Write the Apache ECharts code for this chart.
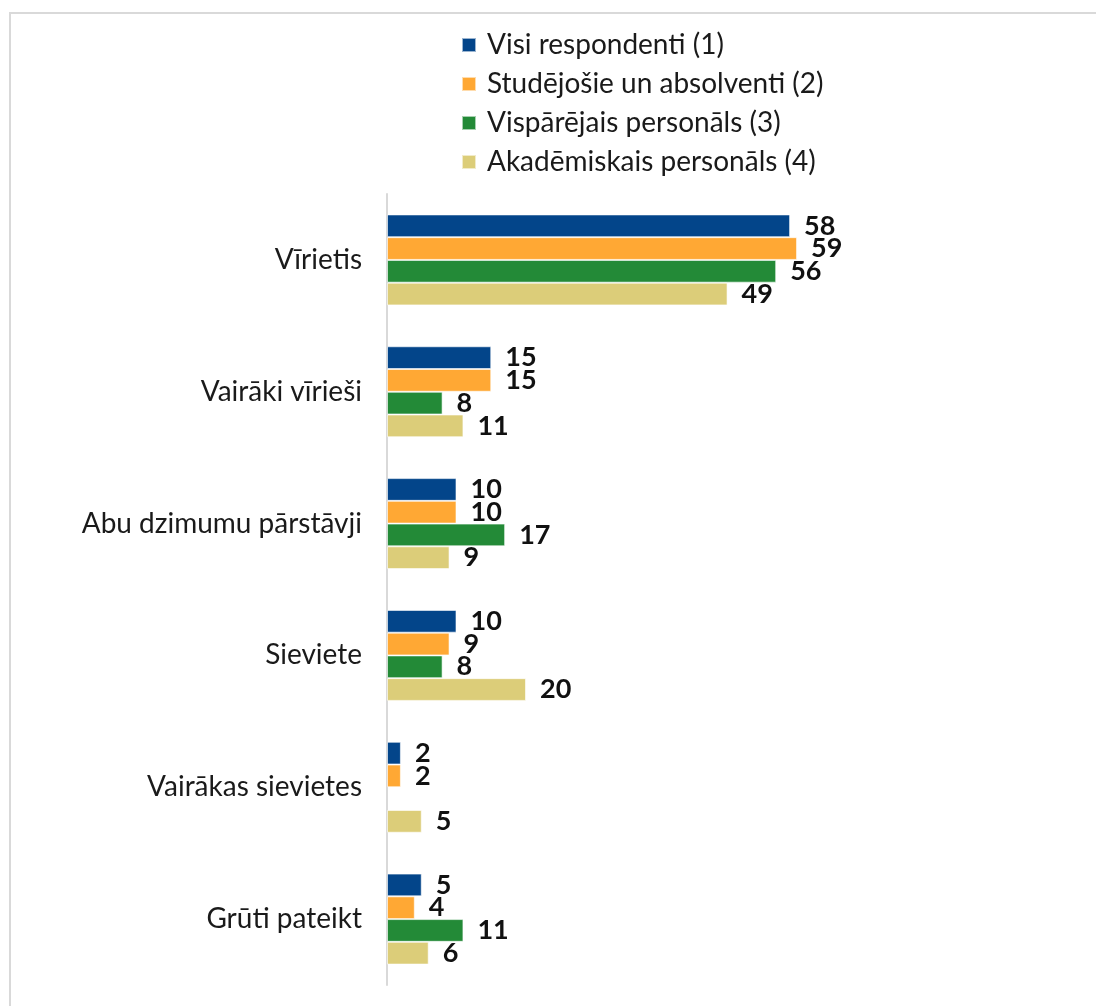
<!DOCTYPE html>
<html>
<head>
<meta charset="utf-8">
<script src="https://cdn.jsdelivr.net/npm/echarts@6/dist/echarts.min.js"></script>
<style>
html,body{margin:0;padding:0;background:#fff;}
#c{width:1096px;height:1006px;}
</style>
</head>
<body>
<div id="c"></div>
<script>
const categories = ["Vīrietis", "Vairāki vīrieši", "Abu dzimumu pārstāvji", "Sieviete", "Vairākas sievietes", "Grūti pateikt"];
const seriesNames = ["Visi respondenti (1)", "Studējošie un absolventi (2)", "Vispārējais personāls (3)", "Akadēmiskais personāls (4)"];
const visi = [58, 15, 10, 10, 2, 5];
const studejosie = [59, 15, 10, 9, 2, 4];
const visparejais = [56, 8, 17, 8, null, 11];
const akademiskais = [49, 11, 9, 20, 5, 6];
const colors = ["#03458a", "#ffa834", "#238a37", "#dccd79"];

const FONT = "Lato, 'Liberation Sans', sans-serif";
const dataSets = [visi, studejosie, visparejais, akademiskais];

const chart = echarts.init(document.getElementById('c'));
chart.setOption({
  animation: false,
  backgroundColor: '#fff',
  graphic: [{
    type: 'rect',
    shape: {x: 10, y: 13, width: 1200, height: 1100},
    style: {fill: 'none', stroke: '#d9d9d9', lineWidth: 2},
    silent: true
  }],
  legend: {
    orient: 'vertical',
    left: 456,
    top: 26,
    icon: 'rect',
    itemWidth: 14,
    itemHeight: 14,
    itemGap: 11,
    textStyle: {fontFamily: FONT, fontSize: 28, color: '#1a1a1a', padding: [0, 0, 0, 6]},
    data: seriesNames
  },
  grid: {left: 387, right: 14, top: 194, bottom: 21, containLabel: false},
  xAxis: {
    type: 'value', min: 0, max: 100,
    show: false
  },
  yAxis: {
    type: 'category',
    data: categories,
    inverse: true,
    axisLine: {show: true, lineStyle: {color: '#d9d9d9', width: 2}},
    axisTick: {show: false},
    axisLabel: {fontFamily: FONT, fontSize: 28, color: '#1a1a1a', margin: 25}
  },
  series: dataSets.map((d, i) => ({
    name: seriesNames[i],
    type: 'bar',
    data: d,
    barGap: '0%',
    barCategoryGap: '31%',
    itemStyle: {color: colors[i], borderColor: 'rgba(255,255,255,0.6)', borderWidth: 1},
    label: {
      show: true, position: 'right', distance: 14,
      fontFamily: FONT, fontSize: 27, fontWeight: 'bold', color: '#111'
    }
  }))
});
</script>
</body>
</html>
